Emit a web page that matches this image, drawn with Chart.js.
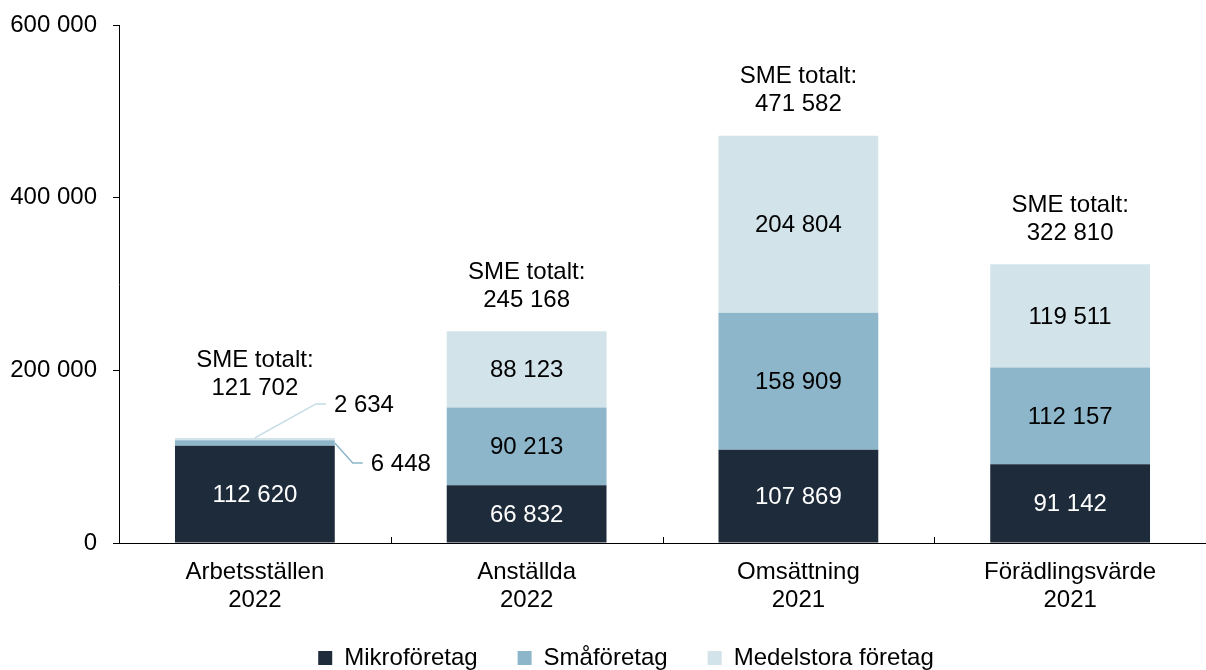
<!DOCTYPE html>
<html><head><meta charset="utf-8">
<script src="https://cdn.jsdelivr.net/npm/chart.js@4"></script>
<style>html,body{margin:0;padding:0;background:#fff}</style>
</head><body>
<canvas id="c" width="1206" height="670"></canvas>
<script>
const categories = [["Arbetsställen","2022"],["Anställda","2022"],["Omsättning","2021"],["Förädlingsvärde","2021"]];
const seriesNames = ["Mikroföretag","Småföretag","Medelstora företag"];
const mikro = [112620, 66832, 107869, 91142];
const sma = [6448, 90213, 158909, 112157];
const medel = [2634, 88123, 204804, 119511];
const totals = [121702, 245168, 471582, 322810];
const totalLabel = "SME totalt:";
const yMin = 0, yMax = 600000, yStep = 200000;

const colors = ["#1e2b3b", "#8db6ca", "#d2e3ea"];
const FONT = "'Liberation Sans', Arial, sans-serif";
const fmt = v => String(Math.round(v)).replace(/\B(?=(\d{3})+(?!\d))/g, " ");

const labelPlugin = {
  id: 'labels',
  beforeDraw(chart) {
    const lg = chart.legend;
    if (lg && !lg._shifted) {
      lg.left += 23; lg.right += 23;
      lg.top += 10; lg.bottom += 10;
      lg._shifted = true;
    }
    const xs = chart.scales.x;
    xs.bottom = Math.max(xs.bottom, xs.top + 80);
  },
  afterDatasetsDraw(chart) {
    const ctx = chart.ctx;
    const ys = chart.scales.y;
    ctx.save();
    ctx.font = "24px " + FONT;
    ctx.textBaseline = "middle";
    const hasOutside = {};
    chart.data.datasets.forEach((ds, d) => {
      const meta = chart.getDatasetMeta(d);
      meta.data.forEach((el, i) => {
        const v = ds.data[i];
        const h = Math.abs(el.base - el.y);
        if (h >= 30) {
          ctx.fillStyle = d === 0 ? "#ffffff" : "#000000";
          ctx.textAlign = "center";
          ctx.fillText(fmt(v), el.x, (el.y + el.base) / 2 + 1);
        } else {
          hasOutside[i] = true;
          ctx.lineWidth = 1.5;
          ctx.strokeStyle = d === 1 ? "#8db6ca" : "#c4dbe5";
          let sx, sy, ex, ey;
          if (d === 2) {
            sx = el.x; sy = el.y;
            ex = sx + 61; ey = sy - 34;
          } else {
            sx = el.x + el.width / 2; sy = (el.y + el.base) / 2;
            ex = sx + 18; ey = sy + 20;
          }
          ctx.beginPath();
          ctx.moveTo(sx, sy); ctx.lineTo(ex, ey); ctx.lineTo(ex + 10, ey);
          ctx.stroke();
          ctx.fillStyle = "#000";
          ctx.textAlign = "left";
          ctx.fillText(fmt(v), ex + 18, ey + 1);
        }
      });
    });
    const meta0 = chart.getDatasetMeta(0);
    totals.forEach((t, i) => {
      const x = meta0.data[i].x;
      const top = ys.getPixelForValue(t);
      const lift = hasOutside[i] ? 50 : 31;
      ctx.fillStyle = "#000";
      ctx.textAlign = "center";
      ctx.fillText(totalLabel, x, top - lift - 28);
      ctx.fillText(fmt(t), x, top - lift);
    });
    ctx.restore();
  },
  afterDraw(chart) {
    const ctx = chart.ctx, xs = chart.scales.x, b = chart.chartArea.bottom;
    ctx.save();
    ctx.strokeStyle = "#000"; ctx.lineWidth = 1;
    for (let i = 0; i < categories.length - 1; i++) {
      const px = Math.round((xs.getPixelForValue(i) + xs.getPixelForValue(i + 1)) / 2) + 0.5;
      ctx.beginPath(); ctx.moveTo(px, b); ctx.lineTo(px, b - 6); ctx.stroke();
    }
    ctx.restore();
  }
};

new Chart(document.getElementById('c'), {
  type: 'bar',
  data: {
    labels: categories,
    datasets: [
      { label: seriesNames[0], data: mikro, backgroundColor: colors[0] },
      { label: seriesNames[1], data: sma, backgroundColor: colors[1] },
      { label: seriesNames[2], data: medel, backgroundColor: colors[2] }
    ]
  },
  options: {
    responsive: false,
    animation: false,
    datasets: { bar: { categoryPercentage: 1, barPercentage: 0.588, borderWidth: 0 } },
    layout: { padding: { top: 25, left: 0, right: 0, bottom: 0 } },
    plugins: {
      tooltip: { enabled: false },
      legend: {
        position: 'bottom',
        labels: { boxWidth: 14, boxHeight: 14, padding: 40, color: "#000", font: { size: 24, family: FONT } }
      }
    },
    scales: {
      x: {
        stacked: true,
        afterFit(s) { s.height = 53; },
        grid: { display: false },
        border: { display: true, color: "#000", width: 1 },
        ticks: { color: "#000", font: { size: 24, family: FONT, lineHeight: 1.17 }, padding: 7, maxRotation: 0 }
      },
      y: {
        stacked: true, min: yMin, max: yMax,
        afterFit(s) { s.width = 119; s.paddingTop = 0; s.paddingBottom = 0; },
        grid: { display: true, drawOnChartArea: false, tickLength: 6, color: "#000" },
        border: { display: true, color: "#000", width: 1 },
        ticks: { stepSize: yStep, color: "#000", padding: 16, font: { size: 24, family: FONT }, callback: v => fmt(v) }
      }
    }
  },
  plugins: [labelPlugin]
});
</script>
</body></html>
